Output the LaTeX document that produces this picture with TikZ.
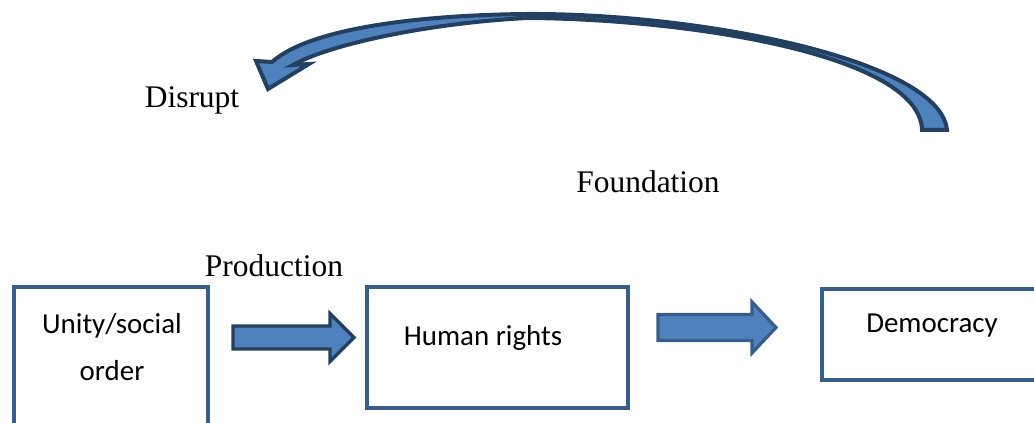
\documentclass[tikz,border=0pt]{standalone}
\usepackage{fontspec}
\setmainfont{Liberation Serif}
\newfontfamily\boxfont{Carlito}
\usetikzlibrary{calc,fit}

\definecolor{boxline}{RGB}{56,93,138}
\definecolor{arrowfill}{RGB}{79,129,189}
\definecolor{arrowline}{RGB}{36,64,96}

% block arrow from #1 to #2: half shaft, half head, head length
\newcommand{\arrowpath}[5]{($(#1)+(0,-#3)$) -- ($(#2)+(-#5,-#3)$) -- ($(#2)+(-#5,-#4)$) -- (#2)
    -- ($(#2)+(-#5,#4)$) -- ($(#2)+(-#5,#3)$) -- ($(#1)+(0,#3)$) -- cycle}

\tikzset{
    box/.style={draw=boxline, line width=3.4pt, inner sep=0pt},
    boxtext/.style={font=\boxfont\fontsize{21.7}{35.25}\selectfont, align=center, inner sep=0pt},
    lbl/.style={font=\fontsize{23.6}{28}\selectfont, inner sep=0pt},
    blockarrow/.style={fill=arrowfill, line width=2.4pt, line join=miter}
}

\begin{document}
\begin{tikzpicture}[x=0.75pt, y=-0.75pt]
    \clip (0,0) rectangle (1034,423);
    % boxes
    \node[box, fit={(14,287) (208,450)}] (unity) {};
    \node[box, fit={(367,287) (628,408)}] (rights) {};
    \node[box, fit={(822,289) (1050,380)}] (democ) {};
    \node[boxtext, anchor=base] (unitytxt) at (112,381) {Unity/social\\order};
    \node[boxtext, anchor=base] (rightstxt) at (483,346) {Human rights};
    \node[boxtext, anchor=base] (democtxt) at (932,333) {Democracy};
    % labels
    \node[lbl, anchor=base] (prod) at (274,277) {Production};
    \node[lbl, anchor=base] (found) at (648,193) {Foundation};
    \node[lbl, anchor=base] (disr) at (192,108) {Disrupt};
    % block arrows
    \coordinate (a1s) at (233,337.5);
    \coordinate (a1e) at (354,337.5);
    \coordinate (a2s) at (658,327.5);
    \coordinate (a2e) at (776,327.5);
    \draw[blockarrow, draw=arrowline] \arrowpath{a1s}{a1e}{11.5}{24}{24};
    \draw[blockarrow, draw=boxline] \arrowpath{a2s}{a2e}{13}{25.5}{24};
    % curved arrow
    \draw[blockarrow, draw=arrowline, line width=3pt]
        (947,130) .. controls (940,60) and (700,13) .. (527,14)
        .. controls (420,15) and (310,28) .. (272,62)
        -- (256,61) -- (268,89) -- (309,64) -- (293,65)
        .. controls (330,44) and (430,23) .. (527,18)
        .. controls (690,19) and (920,55) .. (922,130) -- cycle;
\end{tikzpicture}
\end{document}
